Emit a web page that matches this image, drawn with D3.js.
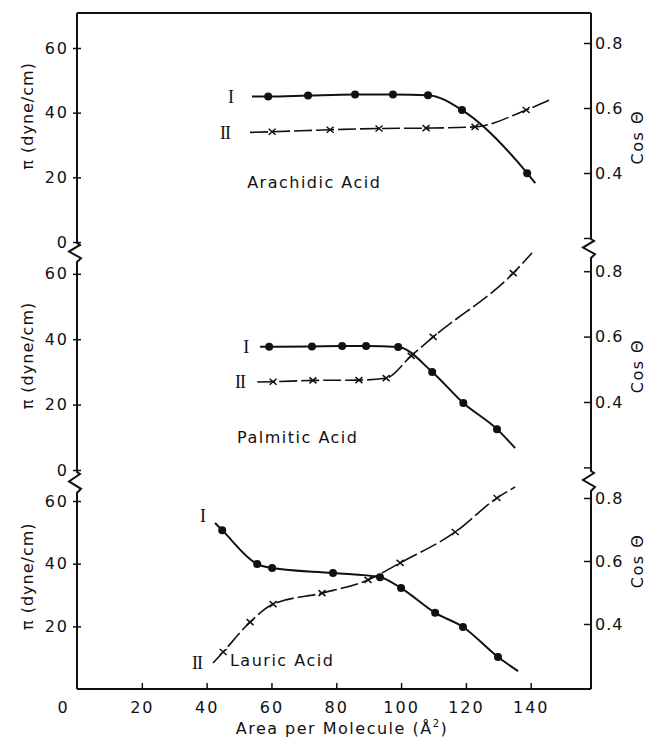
<!DOCTYPE html>
<html>
<head>
<meta charset="utf-8">
<script src="https://cdn.jsdelivr.net/npm/d3@7"></script>
<style>
  body { margin: 0; background: #fff; }
  svg { display: block; }
  text { font-family: "DejaVu Sans", sans-serif; fill: #111; }
</style>
</head>
<body>
<script>
const w = 646;
const h = 738;

// area per molecule (Å²) and values.
// first and last entries of each series only extend the drawn curve (no marker)
const araArea1 = [54.0, 59.0, 71.3, 85.8, 97.5, 108.3, 118.8, 138.9, 141.4];
const araPi    = [45.0, 45.0, 45.3, 45.6, 45.6, 45.4, 40.8, 21.3, 18.2];
const araArea2 = [53.4, 60.2, 78.1, 93.2, 107.7, 122.8, 138.6, 146.6];
const araCos   = [0.525, 0.527, 0.533, 0.537, 0.538, 0.542, 0.594, 0.628];

const palArea1 = [56.5, 59.3, 72.5, 81.8, 89.2, 99.1, 109.6, 119.2, 129.6, 135.2];
const palPi    = [37.7, 37.7, 37.8, 37.9, 37.9, 37.6, 30.0, 20.5, 12.5, 6.7];
const palArea2 = [55.6, 60.5, 72.8, 87.0, 95.4, 103.1, 109.9, 134.6, 140.4];
const palCos   = [0.461, 0.462, 0.466, 0.467, 0.473, 0.541, 0.599, 0.794, 0.856];

const lauArea1 = [42.6, 44.8, 55.6, 60.2, 79.0, 93.5, 100.0, 110.5, 119.1, 129.9, 136.1];
const lauPi    = [53.0, 50.7, 39.9, 38.6, 37.0, 35.7, 32.2, 24.3, 19.8, 10.2, 5.7];
const lauArea2 = [42.0, 45.1, 53.4, 60.5, 75.6, 89.8, 99.7, 116.7, 129.6, 135.2];
const lauCos   = [0.276, 0.311, 0.406, 0.463, 0.498, 0.540, 0.594, 0.692, 0.800, 0.835];

const xTicks = [0, 20, 40, 60, 80, 100, 120, 140];
const piTicks = [0, 20, 40, 60];
const cosTicks = [0.2, 0.4, 0.6, 0.8];
const cosLabels = [0.4, 0.6, 0.8];

const svg = d3.select("body").append("svg").attr("width", w).attr("height", h);

const xLeft = 77, xRight = 591, yTop = 13, yBottom = 689;

const xScale = d3.scaleLinear().domain([0, 158.6]).range([xLeft, xRight]);

// pixel layout of the three stacked panels
const panels = [
  { name: "Arachidic Acid", a1: araArea1, v1: araPi, a2: araArea2, v2: araCos,
    pi: [242, 48], cos: [173, 43], leftTicks: piTicks, rightTicks: cosTicks,
    nameAt: [52.5, 16.7], labI: [47.5, 44.8], labII: [45.7, 0.523], piLab: 39, cosLab: 0.51 },
  { name: "Palmitic Acid", a1: palArea1, v1: palPi, a2: palArea2, v2: palCos,
    pi: [470, 273.8], cos: [402, 271.2], leftTicks: piTicks, rightTicks: cosTicks,
    nameAt: [49.4, 8.3], labI: [52.2, 37.6], labII: [50.3, 0.461], piLab: 35, cosLab: 0.51 },
  { name: "Lauric Acid", a1: lauArea1, v1: lauPi, a2: lauArea2, v2: lauCos,
    pi: [689, 501], cos: [624, 498], leftTicks: [20, 40, 60], rightTicks: [0.4, 0.6, 0.8],
    nameAt: [47.2, 7.3], labI: [38.9, 55.2], labII: [37.0, 0.276], piLab: 36, cosLab: 0.6 }
];

// axis lines with break marks
const breaksL = [[243, 262], [472, 493]];
const breaksR = [[239, 258], [471, 491]];

function zig(x, y0, y1) {
  const d = y1 - y0;
  return " L" + (x + 3) + "," + (y0 + d * 0.1) +
    " L" + (x - 8) + "," + (y0 + d * 0.45) + " L" + (x + 4) + "," + (y0 + d * 0.8) +
    " L" + x + "," + y1;
}

function axisLine(x, br) {
  let d = "M" + x + "," + yTop;
  br.forEach(b => { d += " L" + x + "," + b[0] + zig(x, b[0], b[1]); });
  d += " L" + x + "," + yBottom;
  return d;
}

svg.append("path").attr("d", axisLine(xLeft, breaksL))
  .attr("fill", "none").attr("stroke", "#111").attr("stroke-width", 2);
svg.append("path").attr("d", axisLine(xRight, breaksR))
  .attr("fill", "none").attr("stroke", "#111").attr("stroke-width", 2);
svg.append("line").attr("x1", xLeft).attr("x2", xRight).attr("y1", yTop).attr("y2", yTop)
  .attr("stroke", "#111").attr("stroke-width", 2);
svg.append("line").attr("x1", xLeft).attr("x2", xRight).attr("y1", yBottom).attr("y2", yBottom)
  .attr("stroke", "#111").attr("stroke-width", 2);

// x axis
const xAxis = d3.axisBottom(xScale).tickValues(xTicks).tickSize(-6).tickPadding(13);
const gx = svg.append("g").attr("transform", "translate(0," + yBottom + ")").call(xAxis);
gx.select(".domain").remove();
gx.selectAll("text").style("font-size", "16px").style("letter-spacing", "2px")
  .attr("font-family", null);
gx.selectAll(".tick").filter(d => d === 0).select("line").remove();
gx.selectAll(".tick").filter(d => d === 0).select("text").attr("x", -14);
gx.selectAll("line").attr("stroke", "#111").attr("stroke-width", 1.5);

svg.append("text")
  .attr("x", 342).attr("y", 734)
  .attr("text-anchor", "middle")
  .style("font-size", "16px").style("letter-spacing", "1.5px")
  .html('Area per Molecule (Å<tspan dy="-7" font-size="10px">2</tspan><tspan dy="7">)</tspan>');

const curve = d3.line().curve(d3.curveMonotoneX);

panels.forEach(p => {
  const yL = d3.scaleLinear().domain([0, 60]).range(p.pi);
  const yR = d3.scaleLinear().domain([0.4, 0.8]).range(p.cos);

  const gl = svg.append("g").attr("transform", "translate(" + xLeft + ",0)")
    .call(d3.axisLeft(yL).tickValues(p.leftTicks).tickSize(-4).tickPadding(8));
  gl.select(".domain").remove();
  gl.selectAll("line").attr("x1", -4).attr("x2", 4).attr("stroke", "#111").attr("stroke-width", 1.5);
  gl.selectAll("text").style("font-size", "16px").style("letter-spacing", "2px").attr("font-family", null);

  const gr = svg.append("g").attr("transform", "translate(" + xRight + ",0)")
    .call(d3.axisRight(yR).tickValues(p.rightTicks).tickSize(-7).tickPadding(4)
      .tickFormat(d => cosLabels.includes(d) ? d3.format(".1f")(d) : ""));
  gr.select(".domain").remove();
  gr.selectAll("line").attr("stroke", "#111").attr("stroke-width", 1.5);
  gr.selectAll("text").style("font-size", "16px").style("letter-spacing", "1px").attr("font-family", null);

  // axis titles
  svg.append("text")
    .attr("transform", "translate(27," + yL(p.piLab) + ") rotate(-90)")
    .attr("text-anchor", "middle").attr("dy", "0.35em")
    .style("font-size", "16px").style("letter-spacing", "1px")
    .text("π (dyne/cm)");
  svg.append("text")
    .attr("transform", "translate(637," + yR(p.cosLab) + ") rotate(-90)")
    .attr("text-anchor", "middle").attr("dy", "0.35em")
    .style("font-size", "16px").style("letter-spacing", "1.5px")
    .text("Cos Θ");

  // curve II (cos θ) dashed with x markers
  const pts2 = p.a2.map((a, i) => [xScale(a), yR(p.v2[i])]);
  svg.append("path").attr("d", curve(pts2))
    .attr("fill", "none").attr("stroke", "#111").attr("stroke-width", 1.6)
    .attr("stroke-dasharray", "18,4");
  svg.selectAll(null).data(pts2.slice(1, -1)).enter().append("path")
    .attr("d", d => "M" + (d[0] - 3.5) + "," + (d[1] - 3) + " L" + (d[0] + 3.5) + "," + (d[1] + 3) +
      " M" + (d[0] - 3.5) + "," + (d[1] + 3) + " L" + (d[0] + 3.5) + "," + (d[1] - 3))
    .attr("stroke", "#111").attr("stroke-width", 1.5);

  // curve I (π) solid with filled dots
  const pts1 = p.a1.map((a, i) => [xScale(a), yL(p.v1[i])]);
  svg.append("path").attr("d", curve(pts1))
    .attr("fill", "none").attr("stroke", "#111").attr("stroke-width", 2);
  svg.selectAll(null).data(pts1.slice(1, -1)).enter().append("circle")
    .attr("cx", d => d[0]).attr("cy", d => d[1]).attr("r", 4).attr("fill", "#111");

  // series labels
  svg.append("text").attr("x", xScale(p.labI[0])).attr("y", yL(p.labI[1]))
    .attr("text-anchor", "middle").attr("dy", "0.35em")
    .style("font-family", "'Liberation Serif', serif").style("font-size", "18px")
    .text("I");
  svg.append("text").attr("x", xScale(p.labII[0])).attr("y", yR(p.labII[1]))
    .attr("text-anchor", "middle").attr("dy", "0.35em")
    .style("font-family", "'Liberation Serif', serif").style("font-size", "18px")
    .style("letter-spacing", "-1px")
    .text("II");

  svg.append("text").attr("x", xScale(p.nameAt[0])).attr("y", yL(p.nameAt[1]))
    .style("font-size", "16px").style("letter-spacing", "1.5px")
    .text(p.name);
});
</script>
</body>
</html>
